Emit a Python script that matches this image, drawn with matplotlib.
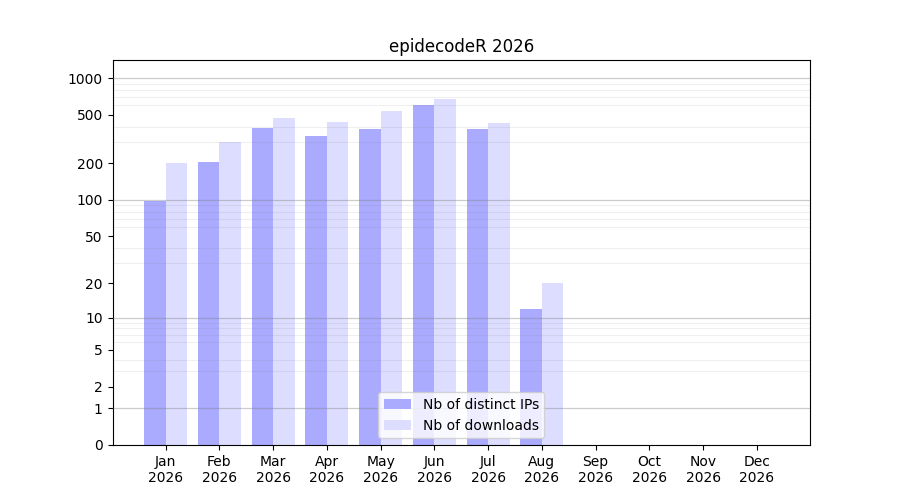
import numpy as np
import matplotlib
matplotlib.use("Agg")
import matplotlib.pyplot as plt
from matplotlib.ticker import FixedLocator, NullFormatter

months = ['Jan\n2026', 'Feb\n2026', 'Mar\n2026', 'Apr\n2026', 'May\n2026', 'Jun\n2026',
          'Jul\n2026', 'Aug\n2026', 'Sep\n2026', 'Oct\n2026', 'Nov\n2026', 'Dec\n2026']
ips = [98, 205, 390, 335, 385, 600, 385, 12, 0, 0, 0, 0]
downloads = [200, 300, 470, 440, 540, 680, 430, 20, 0, 0, 0, 0]
yticks = [0, 1, 2, 5, 10, 20, 50, 100, 200, 500, 1000]

fig, ax = plt.subplots(figsize=(9, 5), dpi=100)

ax.set_yscale('function', functions=(lambda x: np.log10(1 + np.maximum(x, 0)),
                                     lambda y: 10 ** y - 1))

x = np.arange(len(months))
w = 0.4
ax.bar(x, ips, width=-w, align='edge', color='#aaaaff', label='Nb of distinct IPs', zorder=1)
ax.bar(x, downloads, width=w, align='edge', color='#ddddff', label='Nb of downloads', zorder=1)

# grid on top of the bars: decades darker, other multiples light
minor = [k * 10 ** d for d in range(0, 4) for k in range(2, 10)]
ax.yaxis.set_minor_locator(FixedLocator(minor))
ax.yaxis.set_minor_formatter(NullFormatter())
ax.tick_params(axis='y', which='minor', length=0)
ax.grid(axis='y', which='minor', color='gray', alpha=0.12, linewidth=0.8, zorder=2)
for v in [1, 10, 100, 1000]:
    ax.axhline(v, color='gray', alpha=0.4, linewidth=0.9, zorder=3)

ax.set_yticks(yticks)
ax.set_yticklabels([str(t) for t in yticks])
ax.set_ylim(0, 1405)

ax.set_xticks(x)
ax.set_xticklabels(months)
ax.set_xlim(-0.99, 11.99)

ax.set_title('epidecodeR 2026')
leg = ax.legend(loc='lower center')
leg.set_zorder(5)

fig.subplots_adjust(left=0.125, right=0.9, top=0.88, bottom=0.11)
fig.savefig('out.png', dpi=100)
